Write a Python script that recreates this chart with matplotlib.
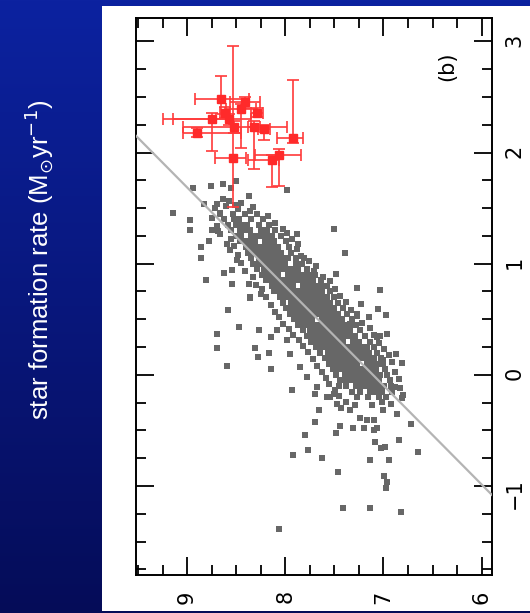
"""
Rotated SFR scatter panel (b) on a blue slide background
"""

import numpy as np
import matplotlib
matplotlib.use("Agg")
import matplotlib.pyplot as plt
from matplotlib.patches import Rectangle
from matplotlib.ticker import MultipleLocator

# ── data ───────────────────────────────────────────────────────────────────
# dense part of the grey cloud: one row per log SFR value, x positions in the row
core_rows = [
    (1.45, [8.66, 8.53, 8.41, 8.29]),
    (1.40, [8.62, 8.52, 8.47, 8.35, 8.23]),
    (1.35, [8.58, 8.50, 8.44, 8.39, 8.27, 8.17]),
    (1.30, [8.55, 8.46, 8.41, 8.36, 8.25, 8.19, 8.10]),
    (1.25, [8.50, 8.45, 8.35, 8.30, 8.25, 8.20, 8.14, 8.04]),
    (1.20, [8.46, 8.41, 8.36, 8.31, 8.21, 8.16, 8.11, 7.99]),
    (1.15, [8.40, 8.37, 8.32, 8.27, 8.22, 8.17, 8.12, 8.07, 7.96]),
    (1.10, [8.38, 8.34, 8.29, 8.24, 8.19, 8.14, 8.09, 8.04, 7.94]),
    (1.05, [8.35, 8.27, 8.22, 8.17, 8.12, 8.07, 8.02, 7.97, 7.89]),
    (1.00, [8.33, 8.30, 8.25, 8.20, 8.15, 8.10, 8.05, 8.00, 7.89, 7.83]),
    (0.95, [8.29, 8.22, 8.17, 8.12, 8.07, 8.02, 7.97, 7.92, 7.87, 7.78]),
    (0.90, [8.24, 8.22, 8.17, 8.12, 8.07, 7.97, 7.92, 7.87, 7.82, 7.76, 7.70]),
    (0.85, [8.20, 8.17, 8.12, 8.07, 8.02, 7.97, 7.92, 7.87, 7.82, 7.77, 7.72, 7.64]),
    (0.80, [8.14, 8.07, 8.02, 7.97, 7.92, 7.82, 7.77, 7.72, 7.67, 7.61, 7.58]),
    (0.75, [8.11, 8.08, 8.03, 7.98, 7.93, 7.88, 7.83, 7.78, 7.73, 7.68, 7.63, 7.54]),
    (0.70, [8.05, 8.03, 7.98, 7.93, 7.88, 7.83, 7.78, 7.73, 7.68, 7.63, 7.58, 7.50]),
    (0.65, [8.02, 7.94, 7.89, 7.84, 7.79, 7.74, 7.69, 7.64, 7.59, 7.54, 7.46]),
    (0.60, [7.99, 7.95, 7.90, 7.85, 7.80, 7.75, 7.70, 7.65, 7.60, 7.55, 7.50, 7.41]),
    (0.55, [7.95, 7.92, 7.87, 7.82, 7.77, 7.72, 7.67, 7.62, 7.57, 7.52, 7.46, 7.37]),
    (0.50, [7.91, 7.88, 7.83, 7.78, 7.73, 7.63, 7.58, 7.53, 7.48, 7.42, 7.32]),
    (0.45, [7.87, 7.84, 7.79, 7.74, 7.69, 7.64, 7.59, 7.54, 7.49, 7.44, 7.38, 7.28]),
    (0.40, [7.82, 7.75, 7.70, 7.65, 7.60, 7.55, 7.50, 7.45, 7.40, 7.34, 7.24]),
    (0.35, [7.78, 7.75, 7.70, 7.65, 7.60, 7.55, 7.50, 7.45, 7.40, 7.35, 7.29, 7.19]),
    (0.30, [7.74, 7.71, 7.66, 7.61, 7.56, 7.51, 7.46, 7.41, 7.31, 7.25, 7.14]),
    (0.25, [7.69, 7.66, 7.61, 7.56, 7.51, 7.46, 7.41, 7.36, 7.31, 7.26, 7.20, 7.10]),
    (0.20, [7.65, 7.57, 7.52, 7.47, 7.42, 7.37, 7.32, 7.27, 7.21, 7.15, 7.07]),
    (0.15, [7.60, 7.57, 7.52, 7.47, 7.42, 7.37, 7.32, 7.27, 7.22, 7.16, 7.10, 7.03]),
    (0.10, [7.55, 7.52, 7.47, 7.42, 7.37, 7.32, 7.27, 7.17, 7.12, 7.06, 7.00]),
    (0.05, [7.51, 7.48, 7.43, 7.38, 7.33, 7.28, 7.23, 7.18, 7.13, 7.08, 6.98]),
    (0.00, [7.48, 7.39, 7.34, 7.29, 7.24, 7.19, 7.14, 7.09, 7.04, 6.96]),
    (-0.05, [7.44, 7.41, 7.35, 7.30, 7.25, 7.20, 7.15, 7.10, 7.05, 6.93]),
    (-0.10, [7.38, 7.28, 7.23, 7.17, 7.12, 7.06, 6.99, 6.92]),
    (-0.15, [7.32, 7.24, 7.14, 7.08, 7.02, 6.91]),
    (-0.20, [7.27, 7.16, 7.05, 6.97]),
]

# looser fringe around the dense part
fringe_x = [8.18, 8.10, 8.02, 7.93, 7.88, 7.84, 7.76, 7.71, 7.62, 7.54,
            7.49, 7.44, 7.38, 7.33, 7.27, 7.22, 7.14, 7.10, 7.05, 6.99,
            6.94, 6.91, 6.88, 6.84, 6.83, 6.80, 6.92, 7.02, 7.12,
            8.75, 8.70, 8.66, 8.55, 8.52, 8.48, 8.45, 8.41, 8.33, 8.30,
            8.24, 8.20, 8.15, 8.10, 8.06, 8.02, 7.96, 7.92, 7.86, 7.82,
            7.77, 7.72, 7.68, 7.63, 7.59, 7.55, 7.49, 7.45, 7.38,
            8.72, 8.60, 8.48, 8.36, 8.63, 8.57, 8.45, 8.33, 8.68, 8.59]
fringe_y = [1.43, 1.37, 1.31, 1.22, 1.13, 1.07, 1.02, 0.93, 0.88, 0.84,
            0.77, 0.71, 0.66, 0.58, 0.53, 0.47, 0.42, 0.36, 0.29, 0.23,
            0.18, 0.12, 0.03, -0.04, -0.12, -0.18, -0.26, -0.24, -0.27,
            1.41, 1.34, 1.27, 1.22, 1.16, 1.08, 1.01, 0.93, 0.88, 0.81,
            0.77, 0.70, 0.63, 0.57, 0.52, 0.46, 0.41, 0.36, 0.31, 0.26,
            0.21, 0.14, 0.08, 0.03, -0.03, -0.08, -0.14, -0.19, -0.24,
            1.50, 1.52, 1.49, 1.47, 1.58, 1.56, 1.55, 1.51, 1.29, 1.18]

# scattered grey points further out
halo_x = [9.14, 8.94, 8.76, 8.63, 8.37, 7.98, 8.97, 8.97, 8.75, 8.86,
          8.86, 8.78, 8.81, 8.62, 8.54, 7.50, 7.39, 7.48, 7.27, 7.04,
          7.23, 7.06, 6.97, 7.15, 7.04, 6.96, 6.87, 6.81, 8.58, 8.47,
          8.70, 8.70, 8.59, 8.36, 8.27, 8.15, 8.17, 8.28, 8.15, 8.31,
          7.93, 7.70, 7.58, 7.50, 7.45, 7.43, 7.66, 7.70, 7.44, 7.48,
          7.80, 7.31, 7.20, 7.10, 7.09, 7.03, 6.98, 6.84, 6.72, 6.65,
          7.92, 7.77, 7.63, 7.14, 6.94, 7.46, 6.99, 6.96, 6.97, 7.41,
          7.14, 6.82, 8.06, 7.29, 7.24, 7.10, 6.86, 6.81, 8.50, 8.55,
          8.83, 8.70, 8.66, 8.51, 7.88, 7.98, 7.87, 7.81, 7.69, 8.56,
          8.49, 8.54, 8.37, 8.36, 8.25, 7.27, 7.34, 7.07, 7.17, 7.00,
          6.93, 6.88, 8.08, 7.98, 7.95, 7.85, 7.78, 7.68, 7.54, 7.47,
          7.34, 7.17, 7.07, 7.00]
halo_y = [1.46, 1.68, 1.70, 1.72, 1.61, 1.66, 1.39, 1.30, 1.30, 1.15,
          1.05, 1.20, 0.85, 0.92, 0.82, 1.31, 1.10, 0.91, 0.78, 0.76,
          0.64, 0.59, 0.54, 0.52, 0.35, 0.37, 0.19, 0.11, 0.58, 0.43,
          0.37, 0.24, 0.08, 0.69, 0.40, 0.34, 0.20, 0.16, 0.05, 0.24,
          -0.14, -0.17, -0.20, -0.17, -0.10, -0.30, -0.32, -0.42, -0.46, -0.52,
          -0.54, -0.48, -0.48, -0.50, -0.60, -0.66, -0.65, -0.59, -0.44, -0.69,
          -0.72, -0.68, -0.75, -0.77, -0.77, -0.87, -0.91, -0.96, -1.02, -1.20,
          -1.20, -1.23, -1.39, -0.27, -0.39, -0.41, -0.35, -0.21, 1.74, 1.68,
          1.54, 1.54, 1.46, 1.53, 1.27, 1.28, 1.18, 1.05, 0.98, 1.12,
          1.03, 0.94, 0.82, 0.70, 0.73, 0.55, 0.46, 0.34, 0.25, 0.13,
          -0.05, -0.11, 0.40, 0.31, 0.19, 0.07, -0.02, -0.11, -0.20, -0.26,
          -0.32, -0.41, -0.48, -0.32]

# red sample with asymmetric error bars
red_x = [8.65, 8.41, 8.45, 8.29, 8.61, 8.75, 8.57, 8.52, 8.32, 8.22, 8.90, 7.92, 8.53, 8.14, 8.06]
red_y = [2.48, 2.45, 2.39, 2.36, 2.36, 2.30, 2.30, 2.23, 2.23, 2.21, 2.18, 2.13, 1.95, 1.93, 1.98]
red_xlo = [0.28, 0.15, 0.15, 0.06, 0.05, 0.19, 0.22, 0.54, 0.06, 0.06, 0.45, 0.10, 0.13, 0.08, 0.22]
red_xhi = [0.27, 0.15, 0.15, 0.06, 0.05, 0.49, 0.57, 0.52, 0.06, 0.06, 0.14, 0.16, 0.19, 0.24, 0.25]
red_ylo = [0.13, 0.05, 0.35, 0.04, 0.05, 0.29, 0.05, 0.05, 0.38, 0.10, 0.04, 0.04, 0.44, 0.24, 0.28]
red_yhi = [0.21, 0.05, 0.05, 0.04, 0.05, 0.06, 0.05, 0.05, 0.05, 0.04, 0.04, 0.52, 1.01, 0.05, 0.05]

# fitted relation, end points
fit_x = [9.52, 5.895]
fit_y = [2.15, -1.08]

GREY = "#676767"

# ── figure / slide background ──────────────────────────────────────────────
fig = plt.figure(figsize=(5.3, 6.13), dpi=100)

bg = fig.add_axes([0, 0, 1, 1], zorder=-10)
top_col = np.array([12, 34, 160]) / 255
bot_col = np.array([5, 12, 88]) / 255
t = np.linspace(0, 1, 256)[:, None]
grad = (top_col[None, :] * (1 - t) + bot_col[None, :] * t)[:, None, :]
bg.imshow(grad, aspect="auto", extent=[0, 1, 0, 1])
bg.axis("off")

fig.add_artist(Rectangle((102 / 530, 2 / 613), 428 / 530, 605 / 613,
                         transform=fig.transFigure, facecolor="white",
                         edgecolor="none", zorder=-5))

fig.text(0.0736, 0.576, "star formation rate (M$_{\\odot}$yr$^{-1}$)",
         rotation=90, color="white", fontsize=18.5, family="Liberation Sans",
         ha="center", va="center")

# ── main panel ─────────────────────────────────────────────────────────────
ax = fig.add_axes([136 / 530, 38 / 613, 356 / 530, 557 / 613])
ax.set_facecolor("white")

cx = [x for yv, xs in core_rows for x in xs]
cy = [yv for yv, xs in core_rows for x in xs]
ax.scatter(cx, cy, marker="s", s=15, color=GREY, linewidths=0, zorder=2)
ax.scatter(fringe_x, fringe_y, marker="s", s=15, color=GREY, linewidths=0, zorder=2)
ax.scatter(halo_x, halo_y, marker="s", s=15, color=GREY, linewidths=0, zorder=2)

ax.plot(fit_x, fit_y, color="#b4b4b4", lw=1.6, zorder=3)

ax.errorbar(red_x, red_y, xerr=[red_xlo, red_xhi], yerr=[red_ylo, red_yhi],
            fmt="s", ms=6, color="#ff2a2a", ecolor="#ff3a3a", elinewidth=1.2,
            capsize=4, capthick=1.2, zorder=4)

ax.text(6.35, 2.775, "(b)", rotation=90, fontsize=15, ha="center", va="center")

ax.set_xlim(9.52, 5.895)
ax.set_ylim(-1.80, 3.21)
ax.xaxis.set_major_locator(MultipleLocator(1))
ax.xaxis.set_minor_locator(MultipleLocator(0.25))
ax.yaxis.set_major_locator(MultipleLocator(1))
ax.yaxis.set_minor_locator(MultipleLocator(0.25))

ax.tick_params(which="both", direction="in", top=True, bottom=True,
               left=True, right=True, labelleft=False, labelright=True,
               width=1.3, labelsize=15, labelrotation=90)
ax.tick_params(which="major", length=13)
ax.tick_params(which="minor", length=7)
ax.tick_params(axis="x", pad=11)
ax.tick_params(axis="y", pad=9)
for sp in ax.spines.values():
    sp.set_linewidth(1.4)

fig.savefig("out.png", dpi=100)
